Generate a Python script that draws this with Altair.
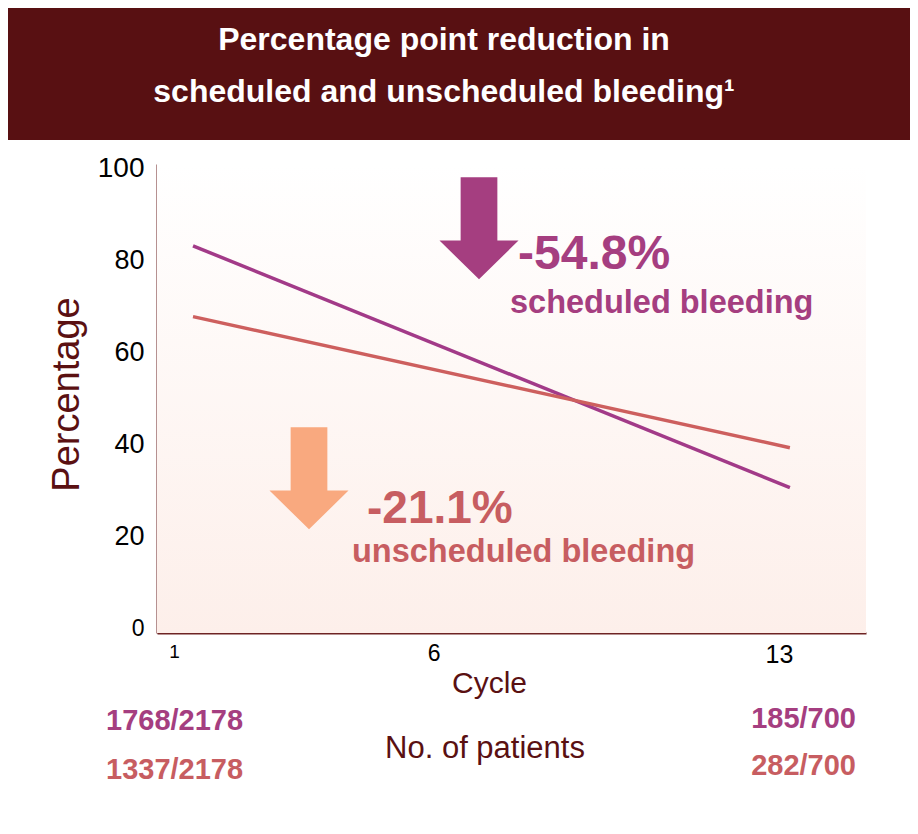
import altair as alt
import pandas as pd

# ---------------- data ----------------
cycles = [1, 13]
scheduled = [83.2, 30.6]
unscheduled = [67.8, 39.3]
series_names = ["Scheduled bleeding", "Unscheduled bleeding"]
x_ticks = [1, 6, 13]
y_ticks = [0, 20, 40, 60, 80, 100]
title_lines = ["Percentage point reduction in", "scheduled and unscheduled bleeding\u00b9"]
reductions = ["-54.8%", "-21.1%"]
reduction_labels = ["scheduled bleeding", "unscheduled bleeding"]
scheduled_patients = ["1768/2178", "185/700"]
unscheduled_patients = ["1337/2178", "282/700"]
patients_label = ["No. of patients"]

# ---------------- styling ----------------
W, H = 709, 469
BANNER = "#581012"
DARK = "#5a1012"
AXIS = "#6e2424"
PURPLE_LINE = "#a23a88"
RED_LINE = "#cd5f5e"
PURPLE_TXT = "#a53e80"
RED_TXT = "#c75d61"
ORANGE = "#f9a97f"
FONT = "Liberation Sans"

rows = []
for c, s, u in zip(cycles, scheduled, unscheduled):
    rows.append({"cycle": c, "pct": s, "series": series_names[0]})
    rows.append({"cycle": c, "pct": u, "series": series_names[1]})
lines_df = pd.DataFrame(rows)


def one(text):
    return pd.DataFrame({"t": [text]})


def label(text, x, y, size, color, weight="normal", align="left", baseline="alphabetic", font=FONT):
    return alt.Chart(one(text)).mark_text(
        fontSize=size, color=color, fontWeight=weight, align=align,
        baseline=baseline, font=font, clip=False
    ).encode(x=alt.value(x), y=alt.value(y), text="t:N")


# background banner
banner = alt.Chart(one("b")).mark_rect(color=BANNER, clip=False).encode(
    x=alt.value(-149), x2=alt.value(753), y=alt.value(-156), y2=alt.value(-24)
)

# gradient plot background
bg = alt.Chart(one("bg")).mark_rect(
    clip=False,
    color=alt.Gradient(
        gradient="linear", x1=0, y1=0, x2=0, y2=1,
        stops=[alt.GradientStop(offset=0, color="#ffffff"),
               alt.GradientStop(offset=1, color="#fdefea")],
    ),
).encode(x=alt.value(0), x2=alt.value(W), y=alt.value(0), y2=alt.value(H))

x_enc = alt.X(
    "cycle:Q",
    scale=alt.Scale(domain=[0.276, 14.53], nice=False, zero=False),
    axis=alt.Axis(
        values=x_ticks, ticks=False, grid=False, domainColor=AXIS, domainWidth=2,
        labelFlush=False, labelFont=FONT, labelColor="#000000",
        labelFontSize={"condition": [{"test": "datum.value == 1", "value": 19},
                                     {"test": "datum.value == 6", "value": 23}],
                       "value": 25},
        labelOffset={"condition": [{"test": "datum.value == 1", "value": -19},
                                   {"test": "datum.value == 6", "value": -8}],
                     "value": -11},
        labelPadding=9,
        title="Cycle", titleFont=FONT, titleFontSize=30, titleFontWeight="normal",
        titleColor=DARK, titleX=332, titleY=59, titleBaseline="alphabetic",
        titleAlign="center",
    ),
)
y_enc = alt.Y(
    "pct:Q",
    scale=alt.Scale(domain=[-1, 101], nice=False, zero=False),
    axis=alt.Axis(
        values=y_ticks, ticks=False, grid=False, domainColor=AXIS, domainWidth=2,
        labelFont=FONT, labelColor="#000000", labelPadding=13,
        labelFontSize={"condition": [{"test": "datum.value == 0", "value": 23},
                                     {"test": "datum.value == 100", "value": 28}],
                       "value": 27},
        title="Percentage", titleFont=FONT, titleFontSize=38, titleFontWeight="normal",
        titleColor=DARK, titleX=-79, titleY=230, titleAngle=270,
        titleBaseline="alphabetic", titleAlign="center",
    ),
)

lines = alt.Chart(lines_df).mark_line(strokeWidth=3.5).encode(
    x=x_enc, y=y_enc,
    color=alt.Color("series:N", scale=alt.Scale(domain=series_names, range=[PURPLE_LINE, RED_LINE]),
                    legend=None),
    detail="series:N",
)

ARROW = "M-0.36,-1 L0.36,-1 L0.36,0.24 L0.775,0.24 L0,1 L-0.775,0.24 L-0.36,0.24 Z"
arrow_p = alt.Chart(one("a")).mark_point(
    shape=ARROW, filled=True, size=10404, color=PURPLE_TXT, opacity=1, strokeWidth=0, clip=False
).encode(x=alt.value(322), y=alt.value(64.3))
arrow_o = alt.Chart(one("a")).mark_point(
    shape=ARROW, filled=True, size=10404, color=ORANGE, opacity=1, strokeWidth=0, clip=False
).encode(x=alt.value(152), y=alt.value(314.3))

texts = [
    label(title_lines[0], 287, -114, 32, "#ffffff", "bold", "center"),
    label(title_lines[1], 287, -62, 32, "#ffffff", "bold", "center"),
    label(reductions[0], 361, 105, 48, PURPLE_TXT, "bold"),
    label(reduction_labels[0], 353, 149, 32.5, PURPLE_TXT, "bold"),
    label(reductions[1], 210, 359, 46, RED_TXT, "bold"),
    label(reduction_labels[1], 195, 398, 32.5, RED_TXT, "bold"),
    label(scheduled_patients[0], -51, 566, 29, PURPLE_TXT, "bold"),
    label(unscheduled_patients[0], -51, 615, 29, RED_TXT, "bold"),
    label(scheduled_patients[1], 699, 564, 29, PURPLE_TXT, "bold", "right"),
    label(unscheduled_patients[1], 699, 611, 29, RED_TXT, "bold", "right"),
    label(patients_label[0], 328, 594, 31, DARK, "normal", "center"),
]

chart = alt.layer(banner, bg, lines, arrow_p, arrow_o, *texts).properties(
    width=W, height=H,
    autosize=alt.AutoSizeParams(type="none"),
    padding={"left": 149, "top": 156, "right": 44, "bottom": 193},
    background="#ffffff",
).configure_view(strokeWidth=0)

chart.save("out.html", embed_options={"renderer": "svg", "actions": False})
